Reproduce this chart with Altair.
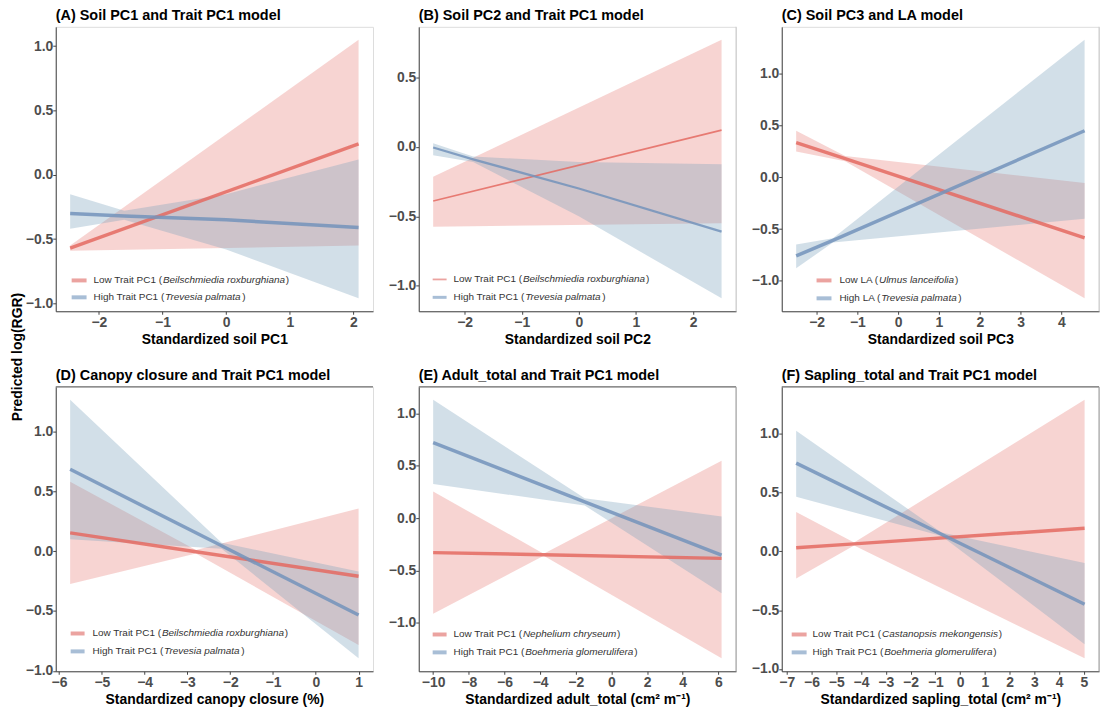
import altair as alt
import pandas as pd

FONT = "Liberation Sans"

# ---------------- text ----------------
panel_titles = [
    "(A) Soil PC1 and Trait PC1 model",
    "(B) Soil PC2 and Trait PC1 model",
    "(C) Soil PC3 and LA model",
    "(D) Canopy closure and Trait PC1 model",
    "(E) Adult_total and Trait PC1 model",
    "(F) Sapling_total and Trait PC1 model",
]
x_titles = [
    "Standardized soil PC1",
    "Standardized soil PC2",
    "Standardized soil PC3",
    "Standardized canopy closure (%)",
    "Standardized adult_total (cm² m⁻¹)",
    "Standardized sapling_total (cm² m⁻¹)",
]
y_title = "Predicted log(RGR)"

low_labels = ["Low Trait PC1", "Low Trait PC1", "Low LA", "Low Trait PC1", "Low Trait PC1", "Low Trait PC1"]
low_species = ["Beilschmiedia roxburghiana", "Beilschmiedia roxburghiana", "Ulmus lanceifolia",
               "Beilschmiedia roxburghiana", "Nephelium chryseum", "Castanopsis mekongensis"]
high_labels = ["High Trait PC1", "High Trait PC1", "High LA", "High Trait PC1", "High Trait PC1", "High Trait PC1"]
high_species = ["Trevesia palmata", "Trevesia palmata", "Trevesia palmata",
                "Trevesia palmata", "Boehmeria glomerulifera", "Boehmeria glomerulifera"]

x_ticks = [
    [-2, -1, 0, 1, 2],
    [-2, -1, 0, 1, 2],
    [-2, -1, 0, 1, 2, 3, 4],
    [-6, -5, -4, -3, -2, -1, 0, 1],
    [-10, -8, -6, -4, -2, 0, 2, 4, 6],
    [-7, -6, -5, -4, -3, -2, -1, 0, 1, 2, 3, 4, 5],
]
y_ticks = [
    [-1.0, -0.5, 0.0, 0.5, 1.0],
    [-1.0, -0.5, 0.0, 0.5],
    [-1.0, -0.5, 0.0, 0.5, 1.0],
    [-1.0, -0.5, 0.0, 0.5, 1.0],
    [-1.0, -0.5, 0.0, 0.5, 1.0],
    [-1.0, -0.5, 0.0, 0.5, 1.0],
]

# ---------------- series ----------------
# Panel A
A_low_x = [-2.45, 2.08]
A_low_fit = [-0.57, 0.24]
A_low_lo = [-0.59, -0.55]
A_low_hi = [-0.55, 1.05]
A_high_x = [-2.45, -1.6, 0.0, 2.08]
A_high_fit = [-0.30, -0.32, -0.35, -0.41]
A_high_lo = [-0.42, -0.35, -0.58, -0.96]
A_high_hi = [-0.15, -0.28, -0.15, 0.12]
# Panel B
B_low_x = [-2.55, 2.5]
B_low_fit = [-0.39, 0.12]
B_low_lo = [-0.575, -0.55]
B_low_hi = [-0.215, 0.77]
B_high_x = [-2.55, -1.85, 0.0, 2.5]
B_high_fit = [-0.005, -0.09, -0.30, -0.61]
B_high_lo = [-0.06, -0.11, -0.50, -1.09]
B_high_hi = [0.025, -0.07, -0.11, -0.125]
# Panel C
C_low_x = [-2.5, -1.3, 4.57]
C_low_fit = [0.335, 0.18, -0.585]
C_low_lo = [0.25, 0.155, -1.17]
C_low_hi = [0.45, 0.205, -0.055]
C_high_x = [-2.5, -1.6, 4.57]
C_high_fit = [-0.76, -0.61, 0.45]
C_high_lo = [-0.88, -0.63, -0.40]
C_high_hi = [-0.65, -0.59, 1.33]
# Panel D
D_low_x = [-5.74, -2.8, 1.0]
D_low_fit = [0.153, -0.005, -0.21]
D_low_lo = [-0.275, -0.02, -0.785]
D_low_hi = [0.58, 0.01, 0.356]
D_high_x = [-5.74, -2.2, 1.0]
D_high_fit = [0.685, 0.045, -0.534]
D_high_lo = [0.10, 0.02, -0.896]
D_high_hi = [1.266, 0.07, -0.17]
# Panel E
E_low_x = [-10.0, -3.8, 6.18]
E_low_fit = [-0.33, -0.35, -0.385]
E_low_lo = [-0.913, -0.36, -1.34]
E_low_hi = [0.253, -0.34, 0.547]
E_high_x = [-10.0, -1.5, 6.18]
E_high_fit = [0.72, 0.155, -0.354]
E_high_lo = [0.326, 0.12, -0.717]
E_high_hi = [1.13, 0.19, 0.016]
# Panel F
F_low_x = [-6.62, -4.28, 5.03]
F_low_fit = [0.03, 0.063, 0.195]
F_low_lo = [-0.232, 0.05, -0.91]
F_low_hi = [0.333, 0.075, 1.288]
F_high_x = [-6.62, -0.75, 5.03]
F_high_fit = [0.75, 0.145, -0.45]
F_high_lo = [0.463, 0.13, -0.79]
F_high_hi = [1.025, 0.16, -0.10]

LOW = [
    (A_low_x, A_low_fit, A_low_lo, A_low_hi),
    (B_low_x, B_low_fit, B_low_lo, B_low_hi),
    (C_low_x, C_low_fit, C_low_lo, C_low_hi),
    (D_low_x, D_low_fit, D_low_lo, D_low_hi),
    (E_low_x, E_low_fit, E_low_lo, E_low_hi),
    (F_low_x, F_low_fit, F_low_lo, F_low_hi),
]
HIGH = [
    (A_high_x, A_high_fit, A_high_lo, A_high_hi),
    (B_high_x, B_high_fit, B_high_lo, B_high_hi),
    (C_high_x, C_high_fit, C_high_lo, C_high_hi),
    (D_high_x, D_high_fit, D_high_lo, D_high_hi),
    (E_high_x, E_high_fit, E_high_lo, E_high_hi),
    (F_high_x, F_high_fit, F_high_lo, F_high_hi),
]

# ---------------- styling / layout ----------------
RED_FILL = "#E8837F"
BLUE_FILL = "#7FA4BE"
RED_LINE = "#E46A62"
BLUE_LINE = "#7393BB"
RED_KEY = "#EBA3A0"
BLUE_KEY = "#A8BED6"

W, H = 319, 286
LINE_W = [(3.5, 3.5), (1.6, 2.3), (3.5, 3.5), (3.5, 3.5), (3.5, 3.5), (3.5, 3.5)]
LEG = [
    dict(sx=(16, 31), tx=38, ry=(255, 272)),
    dict(sx=(14, 28), tx=35, ry=(254, 272)),
    dict(sx=(35, 50), tx=58, ry=(255, 273)),
    dict(sx=(15, 29), tx=37, ry=(248, 266)),
    dict(sx=(14, 28), tx=35, ry=(249, 267)),
    dict(sx=(10, 25), tx=31, ry=(249, 267)),
]
BORDERS = [
    {},
    {"right": "#cccccc"},
    {"right": "#cccccc"},
    {"top": "#555555"},
    {"top": "#555555", "right": "#999999"},
    {"top": "#555555", "right": "#999999"},
]
LEG_SIZE = 10

ARIAL = {
    " ": 278, "(": 333, ")": 333, ".": 278,
    "A": 667, "B": 667, "C": 722, "D": 722, "E": 667, "F": 611, "G": 778, "H": 722, "I": 278,
    "J": 500, "K": 667, "L": 556, "M": 833, "N": 722, "O": 778, "P": 667, "Q": 778, "R": 722,
    "S": 667, "T": 611, "U": 722, "V": 667, "W": 944, "X": 667, "Y": 667, "Z": 611,
    "a": 556, "b": 556, "c": 500, "d": 556, "e": 556, "f": 278, "g": 556, "h": 556, "i": 222,
    "j": 222, "k": 500, "l": 222, "m": 833, "n": 556, "o": 556, "p": 556, "q": 556, "r": 333,
    "s": 500, "t": 278, "u": 556, "v": 500, "w": 722, "x": 500, "y": 500, "z": 500,
}


def text_width(s, size):
    return sum(ARIAL.get(c, 556) for c in s) / 1000.0 * size


def expand(vals):
    lo, hi = min(vals), max(vals)
    r = hi - lo
    return [lo - 0.05 * r, hi + 0.05 * r]


def one():
    return alt.Chart(pd.DataFrame({"k": [0]}))


def frame(s):
    return pd.DataFrame({"x": s[0], "fit": s[1], "lo": s[2], "hi": s[3]})


def legend_row(sx, tx, ry, key_color, key_w, label, species):
    prefix = label + " ("
    layers = [
        one().mark_rule(color=key_color, strokeWidth=key_w).encode(
            x=alt.value(sx[0]), x2=alt.value(sx[1]), y=alt.value(ry)),
    ]
    common = dict(align="left", baseline="middle", fontSize=LEG_SIZE, font=FONT, color="#333333")
    x1 = tx + text_width(prefix, LEG_SIZE) + 0.3
    x2 = x1 + text_width(species, LEG_SIZE) + 0.8
    layers.append(one().mark_text(text=prefix, **common).encode(x=alt.value(tx), y=alt.value(ry)))
    layers.append(one().mark_text(text=species, fontStyle="italic", **common).encode(
        x=alt.value(x1), y=alt.value(ry)))
    layers.append(one().mark_text(text=")", **common).encode(x=alt.value(x2), y=alt.value(ry)))
    return layers


def panel(k):
    dl = frame(LOW[k])
    dh = frame(HIGH[k])
    xs = alt.Scale(domain=expand(list(dl.x) + list(dh.x)), nice=False, zero=False)
    ys = alt.Scale(domain=expand(list(dl.lo) + list(dl.hi) + list(dh.lo) + list(dh.hi)),
                   nice=False, zero=False)
    xax = alt.Axis(values=x_ticks[k], format="d", title=x_titles[k], grid=False,
                   titleFont=FONT, titleFontSize=14, titleFontWeight="bold", titleColor="#000000",
                   titlePadding=3, labelFont=FONT, labelFontSize=14, labelFontWeight="bold",
                   labelColor="#4d4d4d", labelPadding=1, labelFlush=False, labelOverlap=False,
                   tickSize=3, tickColor="#444444", domainColor="#444444")
    yax = alt.Axis(values=y_ticks[k], format=".1f", title=None, grid=False,
                   labelFont=FONT, labelFontSize=14, labelFontWeight="bold", labelColor="#4d4d4d",
                   labelPadding=0, tickSize=3, tickColor="#444444", domainColor="#444444",
                   minExtent=30, maxExtent=31)
    X = alt.X("x:Q", scale=xs, axis=xax)

    def ribbon(df, color):
        return alt.Chart(df).mark_area(color=color, opacity=0.35).encode(
            x=X, y=alt.Y("lo:Q", scale=ys, axis=yax), y2="hi:Q")

    def line(df, color, sw):
        return alt.Chart(df).mark_line(color=color, strokeWidth=sw, opacity=0.85).encode(
            x=X, y=alt.Y("fit:Q", scale=ys, axis=yax))

    lw = LINE_W[k]
    layers = [ribbon(dl, RED_FILL), ribbon(dh, BLUE_FILL),
              line(dl, RED_LINE, lw[0]), line(dh, BLUE_LINE, lw[1])]

    b = BORDERS[k]
    if "top" in b:
        layers.append(one().mark_rule(color=b["top"], strokeWidth=1).encode(
            x=alt.value(0), x2=alt.value(W), y=alt.value(0)))
    if "right" in b:
        layers.append(one().mark_rule(color=b["right"], strokeWidth=1).encode(
            x=alt.value(W), y=alt.value(0), y2=alt.value(H)))

    lg = LEG[k]
    key_w = (4, 4) if lw[0] > 3 else (1.8, 3)
    layers += legend_row(lg["sx"], lg["tx"], lg["ry"][0], RED_KEY, key_w[0], low_labels[k], low_species[k])
    layers += legend_row(lg["sx"], lg["tx"], lg["ry"][1], BLUE_KEY, key_w[1], high_labels[k], high_species[k])

    return alt.layer(*layers).properties(
        width=W, height=H,
        title=alt.TitleParams(panel_titles[k], anchor="start", frame="group", fontSize=14.5,
                              fontWeight="bold", font=FONT, color="#000000", offset=3),
    )


row1 = alt.hconcat(panel(0), panel(1), panel(2), spacing=13)
row2 = alt.hconcat(panel(3), panel(4), panel(5), spacing=13)

chart = alt.vconcat(row1, row2, spacing=20).properties(
    title=alt.TitleParams(y_title, orient="left", anchor="middle", fontSize=14, fontWeight="bold",
                          font=FONT, color="#000000", offset=0),
    padding={"left": 2, "top": -3, "right": 0, "bottom": 0},
).configure_view(stroke=None).configure(font=FONT)

chart.save("out.html", embed_options={"renderer": "svg", "actions": False})
